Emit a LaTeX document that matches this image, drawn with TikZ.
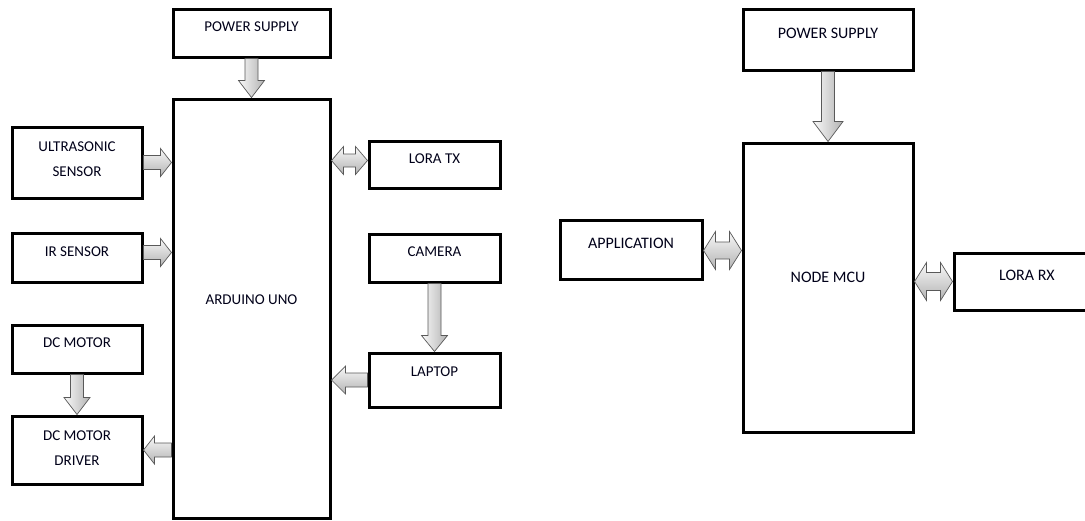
\documentclass[tikz,border=0pt]{standalone}
\usepackage{fontspec}
\setmainfont{Carlito}
\usetikzlibrary{calc}

\tikzset{
  box/.style={draw=black, line width=3pt, fill=white, inner sep=0pt},
  lbl/.style={font=\fontsize{15}{25}\selectfont, align=center, yshift=6pt, text=black!90!blue},
  lblR/.style={font=\fontsize{16}{25}\selectfont, align=center, yshift=6pt, text=black!90!blue},
  arrv/.style={draw=black!65, line width=0.7pt, left color=gray!5, right color=gray!60},
  arrh/.style={draw=black!65, line width=0.7pt, top color=gray!5, bottom color=gray!60},
}

% single block arrow: style, from, to, half shaft, half head, head length
\newcommand\blockarrow[6]{%
  \coordinate (bC) at ($(#3)!#6pt!(#2)$);
  \path[#1] ($(#2)!#4pt!-90:(#3)$) -- ($(bC)!#4pt!90:(#2)$) -- ($(bC)!#5pt!90:(#2)$)
    -- (#3) -- ($(bC)!#5pt!-90:(#2)$) -- ($(bC)!#4pt!-90:(#2)$) -- ($(#2)!#4pt!90:(#3)$) -- cycle;}
% double block arrow
\newcommand\dblockarrow[6]{%
  \coordinate (bC1) at ($(#2)!#6pt!(#3)$);
  \coordinate (bC2) at ($(#3)!#6pt!(#2)$);
  \path[#1] (#2) -- ($(bC1)!#5pt!-90:(#3)$) -- ($(bC1)!#4pt!-90:(#3)$)
    -- ($(bC2)!#4pt!90:(#2)$) -- ($(bC2)!#5pt!90:(#2)$) -- (#3)
    -- ($(bC2)!#5pt!-90:(#2)$) -- ($(bC2)!#4pt!-90:(#2)$)
    -- ($(bC1)!#4pt!90:(#3)$) -- ($(bC1)!#5pt!90:(#3)$) -- cycle;}

\begin{document}
\begin{tikzpicture}[x=1pt, y=-1pt]
\useasboundingbox[fill=white] (0,0) rectangle (1085,520);

% left diagram
\node[box, minimum width=157pt, minimum height=48pt, label={[lbl]center:POWER SUPPLY}] (ps1) at (251.5,33) {};
\node[box, minimum width=157pt, minimum height=419pt, label={[lbl, yshift=2.5pt]center:ARDUINO UNO}] (ard) at (251.5,308.5) {};
\node[box, minimum width=130pt, minimum height=71pt, label={[lbl, yshift=-3pt]center:ULTRASONIC\\SENSOR}] (us) at (77,162.5) {};
\node[box, minimum width=130pt, minimum height=49pt, label={[lbl]center:IR SENSOR}] (ir) at (77,257.5) {};
\node[box, minimum width=130pt, minimum height=48pt, label={[lbl]center:DC MOTOR}] (dcm) at (77,349) {};
\node[box, minimum width=130pt, minimum height=68pt, label={[lbl, yshift=-4.5pt]center:DC MOTOR\\DRIVER}] (drv) at (77,450) {};
\node[box, minimum width=131pt, minimum height=47pt, label={[lbl]center:LORA TX}] (tx) at (434.5,164.5) {};
\node[box, minimum width=131pt, minimum height=48pt, label={[lbl]center:CAMERA}] (cam) at (434.5,258) {};
\node[box, minimum width=131pt, minimum height=54pt, label={[lbl, yshift=2pt]center:LAPTOP}] (lap) at (434.5,380) {};

% right diagram
\node[box, minimum width=170pt, minimum height=61pt, label={[lblR]center:POWER SUPPLY}] (ps2) at (828,39.5) {};
\node[box, minimum width=170pt, minimum height=289pt, label={[lblR, yshift=4.5pt]center:NODE MCU}] (mcu) at (828,287.5) {};
\node[box, minimum width=142pt, minimum height=59pt, label={[lblR]center:APPLICATION}] (app) at (631,249.5) {};
\node[box, minimum width=146pt, minimum height=57pt, label={[lblR]center:LORA RX}] (rx) at (1027,281.5) {};

% connector end points
\coordinate (usA) at (us.east -| ard.west);
\coordinate (irS) at ([yshift=5pt]ir.east);
\coordinate (irA) at (irS -| ard.west);
\coordinate (drvA) at (drv.east -| ard.west);
\coordinate (txW) at ([yshift=4pt]tx.west);
\coordinate (txA) at (txW -| ard.east);
\coordinate (lapA) at (lap.west -| ard.east);
\coordinate (appE) at ([yshift=-1pt]app.east);
\coordinate (appM) at (appE -| mcu.west);
\coordinate (rxW) at (rx.west);
\coordinate (rxM) at (rxW -| mcu.east);

% arrows
\blockarrow{arrv}{ps1.south}{ard.north}{6.5}{13}{17}
\blockarrow{arrh}{us.east}{usA}{7}{14}{11}
\blockarrow{arrh}{irS}{irA}{7}{14}{11}
\blockarrow{arrv}{dcm.south}{drv.north}{6.5}{13}{17}
\blockarrow{arrh}{drvA}{drv.east}{7}{14}{11}
\dblockarrow{arrh}{txA}{txW}{6.5}{14}{12}
\blockarrow{arrv}{cam.south}{lap.north}{6.5}{13}{16}
\blockarrow{arrh}{lap.west}{lapA}{7}{14}{14}

\blockarrow{arrv}{ps2.south}{mcu.north}{6.5}{15}{20}
\dblockarrow{arrh}{appE}{appM}{8.5}{19}{12}
\dblockarrow{arrh}{rxM}{rxW}{9}{19}{12}
\end{tikzpicture}
\end{document}
